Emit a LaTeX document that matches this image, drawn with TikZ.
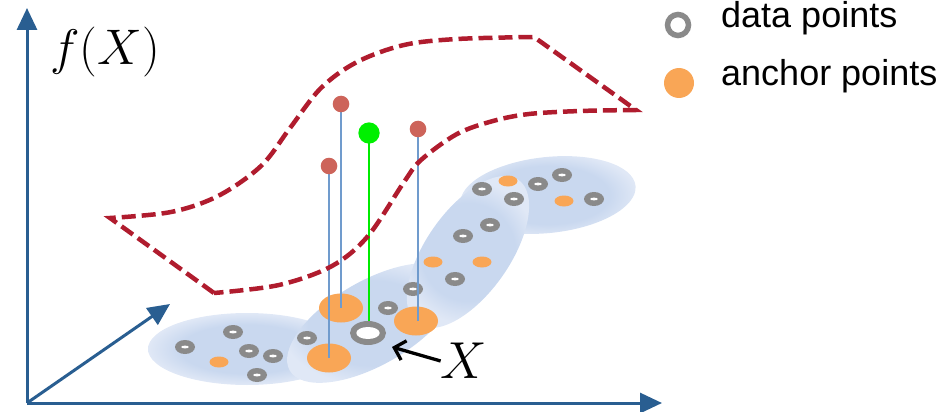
\RequirePackage{fix-cm}
\documentclass[tikz,border=0pt]{standalone}
\usepackage{fontspec}
\newfontfamily\legendfont{Liberation Sans}
\usetikzlibrary{shapes.geometric,arrows.meta}
\definecolor{axisblue}{RGB}{41,94,145}
\definecolor{curvered}{RGB}{176,28,46}
\definecolor{anchororange}{RGB}{249,166,86}
\definecolor{ptgray}{RGB}{138,138,138}
\definecolor{stickblue}{RGB}{112,155,205}
\definecolor{ballred}{RGB}{205,100,90}
\definecolor{ballgreen}{RGB}{0,240,0}
\definecolor{stickgreen}{RGB}{0,235,0}
\definecolor{blobin}{RGB}{201,216,239}
\definecolor{blobout}{RGB}{224,232,246}
\pgfdeclareradialshading{blobshade}{\pgfpoint{0bp}{0bp}}{color(0bp)=(blobin); color(17bp)=(blobin); color(25bp)=(blobout); color(50bp)=(blobout)}
\begin{document}
\begin{tikzpicture}[x=1pt,y=-1pt,
  axisline/.style={draw=axisblue,line width=3pt,-{Triangle[length=22pt,width=20pt]}},
  blob/.style={shading=blobshade},
  datapt/.style={ellipse,fill=ptgray,minimum width=20pt,minimum height=14pt,inner sep=0pt,outer sep=0pt,
    path picture={\fill[white] (path picture bounding box.center) ellipse [x radius=3.8pt,y radius=1.4pt];}},
  smallanchor/.style={ellipse,fill=anchororange,minimum width=19pt,minimum height=11pt,inner sep=0pt,outer sep=0pt},
  biganchor/.style={ellipse,fill=anchororange,minimum width=44pt,minimum height=29pt,inner sep=0pt,outer sep=0pt},
  xring/.style={ellipse,fill=ptgray,minimum width=36pt,minimum height=24pt,inner sep=0pt,outer sep=0pt,
    path picture={\fill[white] (path picture bounding box.center) ellipse [x radius=11.7pt,y radius=6pt];}},
  redball/.style={circle,fill=ballred,minimum size=16.6pt,inner sep=0pt,outer sep=0pt},
  greenball/.style={circle,fill=ballgreen,minimum size=21.3pt,inner sep=0pt,outer sep=0pt},
  stick/.style={draw=stickblue,line width=1.8pt},
  greenstick/.style={draw=stickgreen,line width=1.8pt},
  fcurve/.style={draw=curvered,line width=4.5pt,dash pattern=on 14pt off 6pt,line join=miter},
  legendtext/.style={anchor=mid west,inner sep=0pt,font=\legendfont\fontsize{36}{40}\selectfont},
  pointer/.style={draw=black,line width=3.3pt,-{Straight Barb[length=10pt,width=20pt]}}
]
\useasboundingbox (0,0) rectangle (945,412);

% axes
\coordinate (O) at (27,403);
\coordinate (ytip) at (27,8);
\coordinate (xtip) at (662,403);
\coordinate (ztip) at (170,304);
\draw[axisline] (O) -- (ytip);
\draw[axisline] (O) -- (xtip);
\draw[axisline] (O) -- (ztip);

\node[inner sep=0pt,font=\fontsize{50}{60}\selectfont] (flabel) at (105,52) {$f(X)$};

% blobs
\shade[blob] (247,349) ellipse [x radius=99pt,y radius=36pt];
\shade[blob,rotate around={30:(372,323)}] (372,323) ellipse [x radius=95pt,y radius=42pt];
\shade[blob,rotate around={6:(548,195)}] (548,195) ellipse [x radius=88pt,y radius=38pt];
\shade[blob,rotate around={55:(468,252)}] (468,252) ellipse [x radius=88pt,y radius=42pt];

% data points
\foreach \p/\q [count=\i] in {185/347,233/332,249/351,273/356,257/375,307/338,388/308,413/289,455/279,463/236,490/225,482/189,514/199,538/184,562/175,594/199}
  \node[datapt] (d\i) at (\p,\q) {};
% small anchors
\foreach \p/\q [count=\i] in {219/362,433/262,482/262,508/181,564/201}
  \node[smallanchor] (s\i) at (\p,\q) {};
% big anchors
\node[biganchor] (aA) at (341,308) {};
\node[biganchor] (aB) at (329,358) {};
\node[biganchor] (aC) at (416,321) {};
\node[xring] (xr) at (368,333) {};

% lollipops
\coordinate (r1) at (341,104);
\coordinate (r2) at (329,166);
\coordinate (g1) at (369,133);
\coordinate (r3) at (418,129);
\draw[stick] (r1) -- (aA.center);
\draw[stick] (r2) -- (aB.center);
\draw[stick] (r3) -- (r3 |- aC.center);
\draw[greenstick] (g1) -- (g1 |- xr.north);

% dashed function surface
\draw[fcurve] (214,293) -- (110,218)
  -- plot[smooth,tension=0.55] coordinates {(110,218) (171,212) (218,196) (261,166) (290,128) (321,88) (357,62) (404,45) (457,39) (534,37)}
  -- (636,110)
  -- plot[smooth,tension=0.55] coordinates {(636,110) (580,111) (529,114) (493,121) (457,134) (421,160) (404,182) (368,236) (332,266) (279,285) (214,293)};

\node[redball] (rb1) at (r1) {};
\node[redball] (rb2) at (r2) {};
\node[redball] (rb3) at (r3) {};
\node[greenball] (gb) at (g1) {};

% X label and pointer
\node[inner sep=0pt,font=\fontsize{52}{60}\selectfont] (xlabel) at (464,361) {$X$};
\coordinate (xtipptr) at (392,347);
\draw[pointer] (xlabel.west) -- (xtipptr);

% legend
\draw[draw=ptgray,line width=5.5pt] (678,25) circle [radius=10.5pt];
\node[circle,fill=anchororange,minimum size=30pt,inner sep=0pt] (legdot) at (679,83) {};
\node[legendtext] (legdata) at (721,25) {data points};
\node[legendtext] (leganchor) at (721,83) {anchor points};
\end{tikzpicture}
\end{document}
